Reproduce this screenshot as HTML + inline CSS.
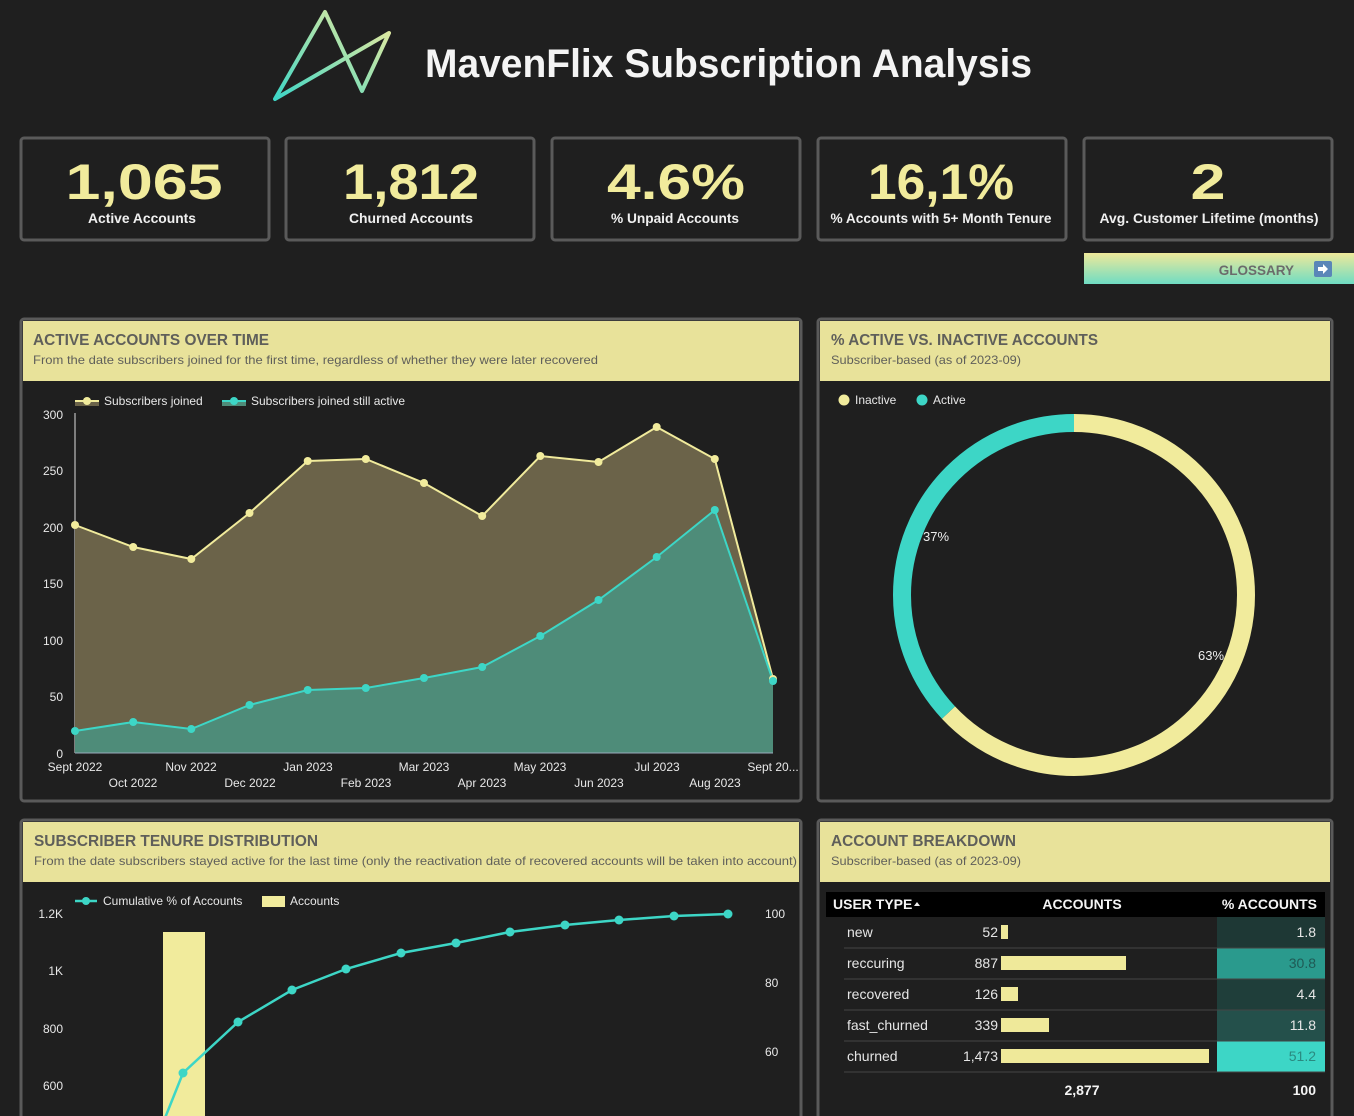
<!DOCTYPE html>
<html><head><meta charset="utf-8"><style>
html,body{margin:0;padding:0;background:#1f1f1f;}
svg{display:block;font-family:"Liberation Sans",sans-serif;}
</style></head><body>
<svg width="1354" height="1116" viewBox="0 0 1354 1116" xmlns="http://www.w3.org/2000/svg">
<defs>
<linearGradient id="lg" x1="0" y1="1" x2="1" y2="0">
<stop offset="0" stop-color="#3dd6c6"/><stop offset="1" stop-color="#f1eb9c"/></linearGradient>
<linearGradient id="gl" x1="0" y1="0" x2="0" y2="1">
<stop offset="0" stop-color="#efe99a"/><stop offset="1" stop-color="#6fdcc3"/></linearGradient>
</defs>
<rect width="1354" height="1116" fill="#1f1f1f"/>
<!-- logo -->
<path d="M275 99 L325 12 L362 91 L389 33 Z" fill="none" stroke="url(#lg)" stroke-width="4" stroke-linejoin="round"/>
<text x="425" y="77" font-size="40" font-weight="bold" fill="#f4f4f4" textLength="607" lengthAdjust="spacingAndGlyphs">MavenFlix Subscription Analysis</text>
<!-- KPIs -->
<g font-weight="bold" text-anchor="middle">
<g fill="none" stroke="#5a5a5a" stroke-width="3">
<rect x="21" y="138" width="248" height="102" rx="3"/>
<rect x="286" y="138" width="248" height="102" rx="3"/>
<rect x="552" y="138" width="248" height="102" rx="3"/>
<rect x="818" y="138" width="248" height="102" rx="3"/>
<rect x="1084" y="138" width="248" height="102" rx="3"/>
</g>
<g fill="#f1eb9c" font-size="50" lengthAdjust="spacingAndGlyphs">
<text x="144" y="199" textLength="157" lengthAdjust="spacingAndGlyphs">1,065</text>
<text x="411" y="199" textLength="136" lengthAdjust="spacingAndGlyphs">1,812</text>
<text x="676" y="199" textLength="138" lengthAdjust="spacingAndGlyphs">4.6%</text>
<text x="941" y="199" textLength="146" lengthAdjust="spacingAndGlyphs">16,1%</text>
<text x="1208" y="199" textLength="35" lengthAdjust="spacingAndGlyphs">2</text>
</g>
<g fill="#f0f0f0" font-size="14">
<text x="142" y="223" textLength="108" lengthAdjust="spacingAndGlyphs">Active Accounts</text>
<text x="411" y="223" textLength="124" lengthAdjust="spacingAndGlyphs">Churned Accounts</text>
<text x="675" y="223" textLength="128" lengthAdjust="spacingAndGlyphs">% Unpaid Accounts</text>
<text x="941" y="223" textLength="221" lengthAdjust="spacingAndGlyphs">% Accounts with 5+ Month Tenure</text>
<text x="1209" y="223" textLength="219" lengthAdjust="spacingAndGlyphs">Avg. Customer Lifetime (months)</text>
</g>
</g>
<!-- glossary -->
<rect x="1084" y="253" width="270" height="31" fill="url(#gl)"/>
<text x="1294" y="275" font-size="13.5" font-weight="bold" fill="#6b6b6b" text-anchor="end">GLOSSARY</text>
<rect x="1314" y="261" width="18" height="16" rx="2" fill="#5a86b8"/>
<path d="M1318 267h5v-3l5 5-5 5v-3h-5z" fill="#fff"/>
<!-- panels -->
<g fill="#1f1f1f" stroke="#5a5a5a" stroke-width="3">
<rect x="21" y="319" width="780" height="482" rx="3"/>
<rect x="818" y="319" width="514" height="482" rx="3"/>
<rect x="21" y="820" width="780" height="310" rx="3"/>
<rect x="818" y="820" width="514" height="310" rx="3"/>
</g>
<g fill="#e8e29a">
<rect x="23" y="321" width="776" height="60"/>
<rect x="820" y="321" width="510" height="60"/>
<rect x="23" y="822" width="776" height="60"/>
<rect x="820" y="822" width="510" height="60"/>
</g>
<g fill="#5f5f5a">
<text x="33" y="345" font-size="16" font-weight="bold" textLength="236" lengthAdjust="spacingAndGlyphs">ACTIVE ACCOUNTS OVER TIME</text>
<text x="33" y="364" font-size="12" textLength="565" lengthAdjust="spacingAndGlyphs">From the date subscribers joined for the first time, regardless of whether they were later recovered</text>
<text x="831" y="345" font-size="16" font-weight="bold" textLength="267" lengthAdjust="spacingAndGlyphs">% ACTIVE VS. INACTIVE ACCOUNTS</text>
<text x="831" y="364" font-size="12" textLength="190" lengthAdjust="spacingAndGlyphs">Subscriber-based (as of 2023-09)</text>
<text x="34" y="846" font-size="16" font-weight="bold" textLength="284" lengthAdjust="spacingAndGlyphs">SUBSCRIBER TENURE DISTRIBUTION</text>
<text x="34" y="865" font-size="12" textLength="763" lengthAdjust="spacingAndGlyphs">From the date subscribers stayed active for the last time (only the reactivation date of recovered accounts will be taken into account)</text>
<text x="831" y="846" font-size="16" font-weight="bold" textLength="185" lengthAdjust="spacingAndGlyphs">ACCOUNT BREAKDOWN</text>
<text x="831" y="865" font-size="12" textLength="190" lengthAdjust="spacingAndGlyphs">Subscriber-based (as of 2023-09)</text>
</g>
<!-- chart 1 -->
<g font-size="12" fill="#e8e8e8">
<rect x="75" y="401" width="24" height="5" fill="#6b6349"/><line x1="75" y1="401" x2="99" y2="401" stroke="#f1eb9c" stroke-width="2"/><circle cx="87" cy="401" r="4" fill="#f1eb9c"/>
<text x="104" y="405">Subscribers joined</text>
<rect x="222" y="401" width="24" height="5" fill="#4e8c79"/><line x1="222" y1="401" x2="246" y2="401" stroke="#3dd6c6" stroke-width="2"/><circle cx="234" cy="401" r="4" fill="#3dd6c6"/>
<text x="251" y="405">Subscribers joined still active</text>
<g text-anchor="end">
<text x="63" y="419">300</text><text x="63" y="475">250</text><text x="63" y="532">200</text><text x="63" y="588">150</text><text x="63" y="645">100</text><text x="63" y="701">50</text><text x="63" y="758">0</text>
</g>
<g text-anchor="middle">
<text x="75" y="771">Sept 2022</text><text x="133" y="787">Oct 2022</text><text x="191" y="771">Nov 2022</text><text x="250" y="787">Dec 2022</text><text x="308" y="771">Jan 2023</text><text x="366" y="787">Feb 2023</text><text x="424" y="771">Mar 2023</text><text x="482" y="787">Apr 2023</text><text x="540" y="771">May 2023</text><text x="599" y="787">Jun 2023</text><text x="657" y="771">Jul 2023</text><text x="715" y="787">Aug 2023</text><text x="773" y="771">Sept 20...</text>
</g>
</g>
<line x1="75" y1="413" x2="75" y2="753" stroke="#ddd" stroke-width="1"/>
<polygon fill="#6b6349" points="75,753 75,525 133.2,547 191.3,559 249.5,513 307.7,461 365.8,459 424,483 482.2,516 540.3,456 598.5,462 656.7,427 714.8,459 773,679 773,753"/>
<polygon fill="#4e8c79" points="75,753 75,731 133.2,722 191.3,729 249.5,705 307.7,690 365.8,688 424,678 482.2,667 540.3,636 598.5,600 656.7,557 714.8,510 773,681 773,753"/>
<line x1="75" y1="753" x2="773" y2="753" stroke="#9ab" stroke-width="1"/>
<polyline fill="none" stroke="#f1eb9c" stroke-width="2" points="75,525 133.2,547 191.3,559 249.5,513 307.7,461 365.8,459 424,483 482.2,516 540.3,456 598.5,462 656.7,427 714.8,459 773,679"/>
<polyline fill="none" stroke="#3dd6c6" stroke-width="2" points="75,731 133.2,722 191.3,729 249.5,705 307.7,690 365.8,688 424,678 482.2,667 540.3,636 598.5,600 656.7,557 714.8,510 773,681"/>
<g fill="#f1eb9c">
<circle cx="75" cy="525" r="4"/><circle cx="133.2" cy="547" r="4"/><circle cx="191.3" cy="559" r="4"/><circle cx="249.5" cy="513" r="4"/><circle cx="307.7" cy="461" r="4"/><circle cx="365.8" cy="459" r="4"/><circle cx="424" cy="483" r="4"/><circle cx="482.2" cy="516" r="4"/><circle cx="540.3" cy="456" r="4"/><circle cx="598.5" cy="462" r="4"/><circle cx="656.7" cy="427" r="4"/><circle cx="714.8" cy="459" r="4"/><circle cx="773" cy="679" r="4"/>
</g>
<g fill="#3dd6c6">
<circle cx="75" cy="731" r="4"/><circle cx="133.2" cy="722" r="4"/><circle cx="191.3" cy="729" r="4"/><circle cx="249.5" cy="705" r="4"/><circle cx="307.7" cy="690" r="4"/><circle cx="365.8" cy="688" r="4"/><circle cx="424" cy="678" r="4"/><circle cx="482.2" cy="667" r="4"/><circle cx="540.3" cy="636" r="4"/><circle cx="598.5" cy="600" r="4"/><circle cx="656.7" cy="557" r="4"/><circle cx="714.8" cy="510" r="4"/><circle cx="773" cy="681" r="4"/>
</g>
<!-- donut -->
<g font-size="12" fill="#e8e8e8">
<circle cx="844" cy="400" r="5.5" fill="#f1eb9c"/><text x="855" y="404">Inactive</text>
<circle cx="922" cy="400" r="5.5" fill="#3dd6c6"/><text x="933" y="404">Active</text>
</g>
<g transform="rotate(-90 1074 595)" fill="none" stroke-width="18">
<circle cx="1074" cy="595" r="172" stroke="#f1eb9c" stroke-dasharray="680.8 1080.7"/>
<circle cx="1074" cy="595" r="172" stroke="#3dd6c6" stroke-dasharray="399.9 1080.7" stroke-dashoffset="-680.8"/>
</g>
<text x="936" y="541" font-size="13" fill="#eee" text-anchor="middle">37%</text>
<text x="1211" y="660" font-size="13" fill="#eee" text-anchor="middle">63%</text>
<!-- chart 3 -->
<g font-size="12" fill="#e8e8e8">
<line x1="75" y1="901" x2="97" y2="901" stroke="#3dd6c6" stroke-width="2.5"/><circle cx="86" cy="901" r="4" fill="#3dd6c6"/>
<text x="103" y="905">Cumulative % of Accounts</text>
<rect x="262" y="896" width="23" height="11" fill="#f1eb9c"/><text x="290" y="905">Accounts</text>
<g text-anchor="end"><text x="63" y="918">1.2K</text><text x="63" y="975">1K</text><text x="63" y="1033">800</text><text x="63" y="1090">600</text></g>
<text x="765" y="918">100</text><text x="765" y="987">80</text><text x="765" y="1056">60</text>
</g>
<rect x="163" y="932" width="42" height="190" fill="#f1eb9c"/>
<polyline fill="none" stroke="#3dd6c6" stroke-width="2.5" points="165,1118 183,1073 238,1022 292,990 346,969 401,953 456,943 510,932 565,925 619,920 674,916 728,914"/>
<g fill="#3dd6c6">
<circle cx="183" cy="1073" r="4.5"/><circle cx="238" cy="1022" r="4.5"/><circle cx="292" cy="990" r="4.5"/><circle cx="346" cy="969" r="4.5"/><circle cx="401" cy="953" r="4.5"/><circle cx="456" cy="943" r="4.5"/><circle cx="510" cy="932" r="4.5"/><circle cx="565" cy="925" r="4.5"/><circle cx="619" cy="920" r="4.5"/><circle cx="674" cy="916" r="4.5"/><circle cx="728" cy="914" r="4.5"/>
</g>
<!-- table -->
<rect x="826" y="892" width="499" height="25" fill="#000"/>
<g font-size="14" font-weight="bold" fill="#f4f4f4">
<text x="833" y="909">USER TYPE</text><path d="M914 906l3-4 3 4z" fill="#eee"/>
<text x="1082" y="909" text-anchor="middle">ACCOUNTS</text>
<text x="1317" y="909" text-anchor="end">% ACCOUNTS</text>
</g>
<rect x="1217" y="917" width="108" height="31" fill="#1e3835"/>
<rect x="1217" y="948" width="108" height="31" fill="#2a9a8d"/>
<rect x="1217" y="979" width="108" height="31" fill="#1f3e3a"/>
<rect x="1217" y="1010" width="108" height="31" fill="#24504b"/>
<rect x="1217" y="1041" width="108" height="31" fill="#3dd6c6"/>
<g stroke="#444" stroke-width="1">
<line x1="844" y1="948" x2="1325" y2="948"/><line x1="844" y1="979" x2="1325" y2="979"/><line x1="844" y1="1010" x2="1325" y2="1010"/><line x1="844" y1="1041" x2="1325" y2="1041"/><line x1="844" y1="1072" x2="1325" y2="1072"/>
</g>
<g fill="#efe99a">
<rect x="1001" y="925" width="7" height="14"/><rect x="1001" y="956" width="125" height="14"/><rect x="1001" y="987" width="17" height="14"/><rect x="1001" y="1018" width="48" height="14"/><rect x="1001" y="1049" width="208" height="14"/>
</g>
<g font-size="14" fill="#e6e6e6">
<text x="847" y="937">new</text><text x="847" y="968">reccuring</text><text x="847" y="999">recovered</text><text x="847" y="1030">fast_churned</text><text x="847" y="1061">churned</text>
<g text-anchor="end">
<text x="998" y="937">52</text><text x="998" y="968">887</text><text x="998" y="999">126</text><text x="998" y="1030">339</text><text x="998" y="1061">1,473</text>
<text x="1316" y="937">1.8</text><text x="1316" y="968" fill="#1f5a55">30.8</text><text x="1316" y="999">4.4</text><text x="1316" y="1030">11.8</text><text x="1316" y="1061" fill="#2a8a80">51.2</text>
</g>
<g font-weight="bold" fill="#f4f4f4"><text x="1082" y="1095" text-anchor="middle">2,877</text><text x="1316" y="1095" text-anchor="end">100</text></g>
</g>
</svg>
</body></html>
